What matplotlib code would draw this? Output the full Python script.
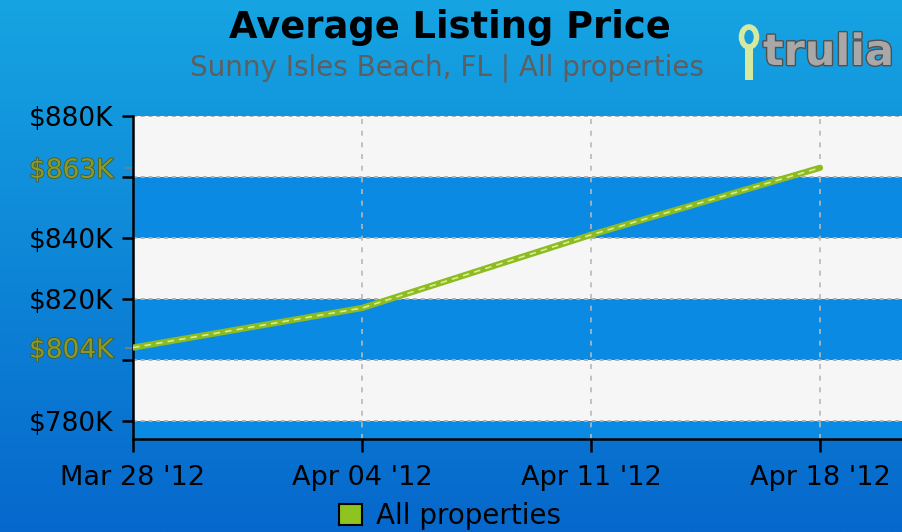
import numpy as np
import matplotlib
matplotlib.use("Agg")
import matplotlib.pyplot as plt
import matplotlib.dates as mdates
from matplotlib.patches import Ellipse, Rectangle, Patch
import matplotlib.patheffects as pe

# ---- data ----
dates = np.array(["2012-03-28", "2012-04-04", "2012-04-11", "2012-04-18"], dtype="datetime64[D]")
prices = [804, 817, 841, 863]          # $K
xtick_labels = ["Mar 28 '12", "Apr 04 '12", "Apr 11 '12", "Apr 18 '12"]
major_yticks = [780, 800, 820, 840, 860, 880]
major_ylabels = ["$780K", "", "$820K", "$840K", "", "$880K"]
highlight_yticks = [804, 863]
highlight_ylabels = ["$804K", "$863K"]
blue_bands = [(774, 780), (800, 820), (840, 860)]
series_name = "All properties"
title = "Average Listing Price"
subtitle = "Sunny Isles Beach, FL | All properties"

W, H = 902, 532
fig = plt.figure(figsize=(W / 100, H / 100), dpi=100)

# gradient background
bg = fig.add_axes([0, 0, 1, 1], zorder=-10)
top = np.array([0x16, 0xa4, 0xe2]) / 255
bot = np.array([0x06, 0x68, 0xcc]) / 255
t = np.linspace(0, 1, 256)[:, None]
grad = top[None, :] * (1 - t) + bot[None, :] * t
bg.imshow(grad[:, None, :], aspect="auto", extent=[0, 1, 0, 1])
bg.set_axis_off()

xnums = mdates.date2num(dates.astype("datetime64[s]").astype(object))

left_px, right_px, top_px, bot_px = 133, 902, 116, 439
ax = fig.add_axes([left_px / W, 1 - bot_px / H, (right_px - left_px) / W, (bot_px - top_px) / H])
ax.set_facecolor("#f6f6f6")
ax.set_xlim(xnums[0], xnums[0] + (right_px - left_px) / (820 - 133) * 21)
ax.set_ylim(774, 880)

for lo, hi in blue_bands:
    ax.axhspan(lo, hi, color="#0a8ae2", lw=0, zorder=0)
for y in major_yticks:
    ax.axhline(y, color="#b0b0b0", lw=1.4, ls=(0, (2, 2)), zorder=1)
for x in xnums:
    ax.axvline(x, color="#b8b8b8", lw=1.2, ls=(0, (3, 4)), zorder=1)

ax.plot(xnums, prices, color="#8dbb22", lw=4.5, solid_capstyle="round", zorder=3)
ax.plot(xnums, prices, color="#d6ef8a", lw=1.2, ls=(0, (4, 3)), zorder=4)

for s in ["top", "right"]:
    ax.spines[s].set_visible(False)
for s in ["left", "bottom"]:
    ax.spines[s].set_linewidth(1.8)
    ax.spines[s].set_color("black")

ax.set_xticks(xnums)
ax.set_xticklabels(xtick_labels)
ax.set_yticks(major_yticks)
ax.set_yticklabels(major_ylabels)
ax.set_yticks(highlight_yticks, minor=True)
ax.set_yticklabels(highlight_ylabels, minor=True)

ax.tick_params(axis="x", which="major", length=9, width=1.8, pad=10,
               labelsize=19.5, colors="black")
ax.tick_params(axis="y", which="major", length=8, width=1.8, pad=6,
               labelsize=19, colors="black")
ax.tick_params(axis="y", which="minor", length=6, width=1.2, pad=8,
               labelsize=19, color="#808080", labelcolor="#8a9a2a")
for lab in ax.get_yticklabels(minor=True):
    lab.set_path_effects([pe.withStroke(linewidth=1.2, foreground="#4a5a20")])
ax.tick_params(axis="x", which="minor", length=0)

# titles
fig.text(450 / W, 1 - 28 / H, title, ha="center", va="center", fontsize=26.5,
         fontweight="bold", color="black")
fig.text(447 / W, 1 - 68 / H, subtitle, ha="center", va="center", fontsize=20,
         color="#5e5e5e")

# trulia logo
fig.text(763 / W, 1 - 53 / H, "trulia", ha="left", va="center", fontsize=31,
         fontweight="bold", color="#a8a8a8",
         path_effects=[pe.withStroke(linewidth=2, foreground="#505050")])
fig.patches.append(Ellipse((749 / W, 1 - 37 / H), 15 / W, 20 / H, transform=fig.transFigure,
                           facecolor="none", edgecolor="#d5eaa0", lw=4))
fig.patches.append(Rectangle((745 / W, 1 - 80 / H), 8 / W, 33 / H, transform=fig.transFigure,
                             facecolor="#d5eaa0", edgecolor="none"))

# legend
handle = Patch(facecolor="#8fc31f", edgecolor="black", linewidth=1.5)
fig.legend([handle], [series_name], loc="center", bbox_to_anchor=(450 / W, 1 - 516 / H),
           frameon=False, fontsize=20, handletextpad=0.5, borderpad=0,
           handlelength=0.8, handleheight=0.8)

fig.savefig("out.png", dpi=100)
